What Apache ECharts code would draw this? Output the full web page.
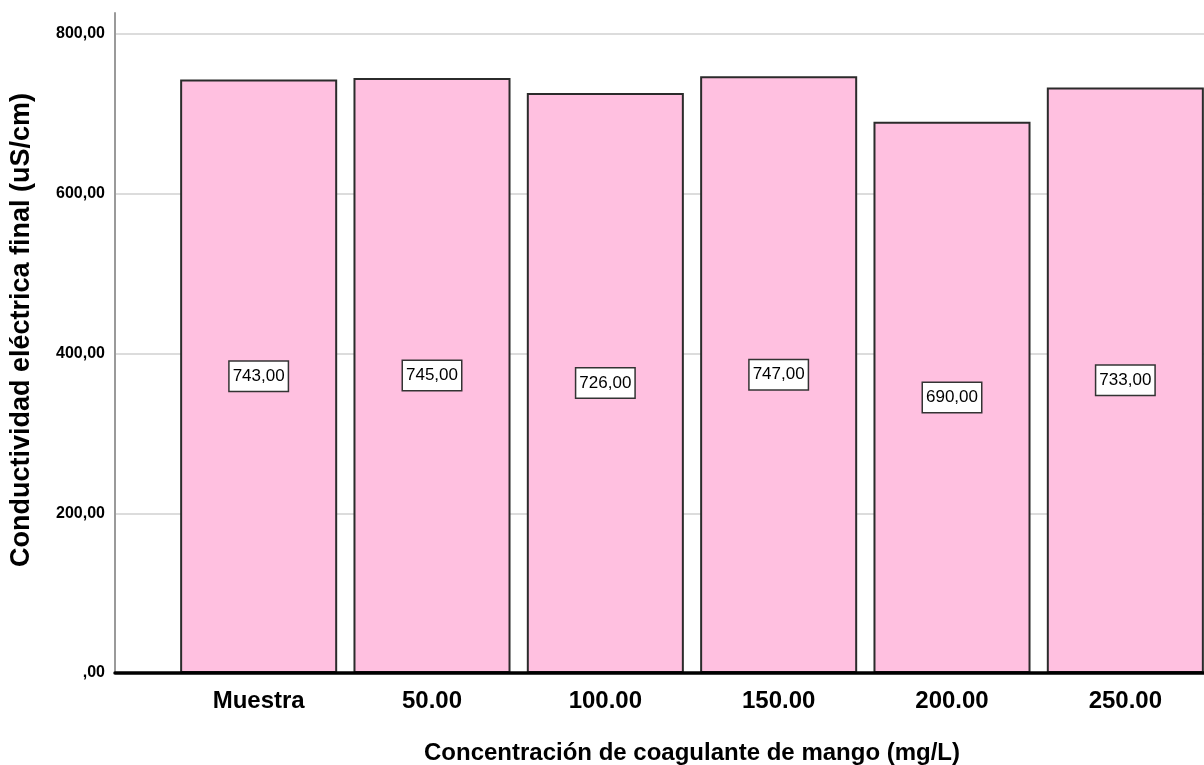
<!DOCTYPE html>
<html>
<head>
<meta charset="utf-8">
<script src="https://cdn.jsdelivr.net/npm/echarts@6/dist/echarts.min.js"></script>
<style>
html,body{margin:0;padding:0;background:#fff;}
#chart{width:1204px;height:765px;}
</style>
</head>
<body>
<div id="chart"></div>
<script>
const categories = ['Muestra', '50.00', '100.00', '150.00', '200.00', '250.00'];
const values = [743, 745, 726, 747, 690, 733];
const yMin = 0;
const yMax = 800;
const yInterval = 200;
const xTitle = 'Concentración de coagulante de mango (mg/L)';
const yTitle = 'Conductividad eléctrica final (uS/cm)';

const fmt = v => {
  const s = v.toFixed(2).replace('.', ',');
  return v === 0 ? ',00' : s;
};

const chart = echarts.init(document.getElementById('chart'), null, {renderer: 'canvas'});
chart.setOption({
  backgroundColor: '#ffffff',
  animation: false,
  grid: [
    {left: 172, width: 1040, top: 34, bottom: 92, outerBoundsMode: 'none', containLabel: false},
    {left: 115, right: 0, top: 34, bottom: 92, outerBoundsMode: 'none', containLabel: false},
    {left: 115, right: 0, top: 13, bottom: 92, outerBoundsMode: 'none', containLabel: false}
  ],
  xAxis: [
    {
      type: 'category', gridIndex: 0, data: categories,
      axisLine: {show: false}, axisTick: {show: false},
      axisLabel: {margin: 16, color: '#000', fontFamily: 'Liberation Sans, Arial, sans-serif', fontWeight: 'bold', fontSize: 24},
      name: xTitle, nameLocation: 'middle', nameGap: 68,
      nameTextStyle: {color: '#000', fontFamily: 'Liberation Sans, Arial, sans-serif', fontWeight: 'bold', fontSize: 24}
    },
    {
      type: 'value', gridIndex: 1, min: 0, max: 1, z: 10,
      axisLine: {show: true, lineStyle: {color: '#000', width: 3.5}},
      axisTick: {show: false}, axisLabel: {show: false}, splitLine: {show: false}
    },
    {type: 'value', gridIndex: 2, show: false, min: 0, max: 1}
  ],
  yAxis: [
    {type: 'value', gridIndex: 0, min: yMin, max: yMax, show: false},
    {
      type: 'value', gridIndex: 1, min: yMin, max: yMax, interval: yInterval,
      axisLine: {show: false}, axisTick: {show: false},
      axisLabel: {margin: 10, formatter: fmt, color: '#000', fontFamily: 'Liberation Sans, Arial, sans-serif', fontWeight: 'bold', fontSize: 16},
      splitLine: {show: true, lineStyle: {color: '#d0d0d0', width: 1.5}}
    },
    {
      type: 'value', gridIndex: 2, min: 0, max: 1,
      axisLine: {show: true, lineStyle: {color: '#9a9a9a', width: 2}},
      axisTick: {show: false}, axisLabel: {show: false}, splitLine: {show: false}
    }
  ],
  graphic: [{
    type: 'text', x: 22, y: 330, rotation: Math.PI / 2,
    style: {text: yTitle, fill: '#000', font: 'bold 27px "Liberation Sans", Arial, sans-serif', align: 'center', verticalAlign: 'middle'}
  }],
  series: [{
    type: 'bar', xAxisIndex: 0, yAxisIndex: 0, data: values,
    barWidth: '90.6%',
    itemStyle: {color: '#ffc0e0', borderColor: '#2b2b2b', borderWidth: 2},
    label: {
      show: true, position: 'inside', formatter: p => fmt(p.value),
      color: '#000', fontFamily: 'Liberation Sans, Arial, sans-serif', fontSize: 17, lineHeight: 22,
      backgroundColor: '#fff', borderColor: '#333', borderWidth: 1.5, padding: [4, 3, 3, 3]
    }
  }]
});
</script>
</body>
</html>
